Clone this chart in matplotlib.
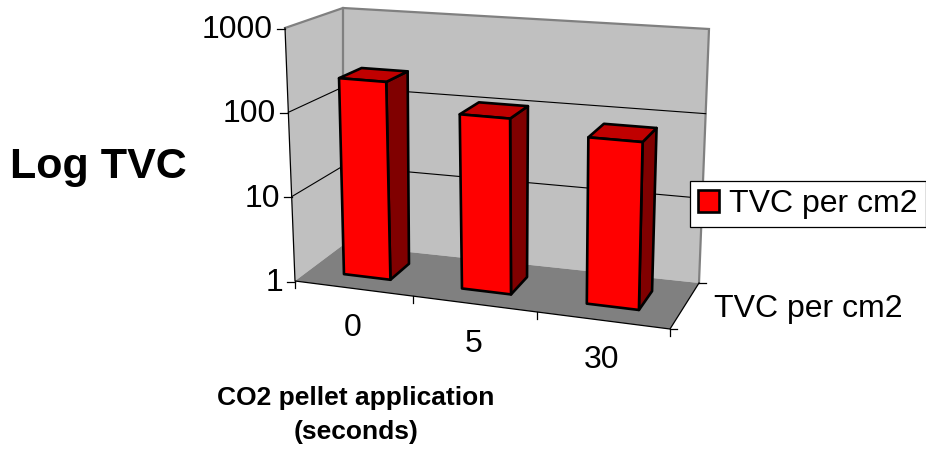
import numpy as np
import matplotlib
matplotlib.use("Agg")
import matplotlib.pyplot as plt
from matplotlib.patches import Polygon, Patch

categories = ["0", "5", "30"]
values = [225, 110, 80]
y_ticks = [1, 10, 100, 1000]
series_name = "TVC per cm2"
x_title = "CO2 pellet application\n(seconds)"
y_title = "Log TVC"

plt.rcParams["font.family"] = ["Liberation Sans", "DejaVu Sans"]
fig = plt.figure(figsize=(9.26, 4.51), dpi=100)
ax = fig.add_axes([0, 0, 1, 1])
ax.set_xlim(0, 926)
ax.set_ylim(451, 0)
ax.axis("off")

# projected corners of the chart box: (category fraction, depth fraction)
FLOOR = [(295, 281), (670, 329), (699, 283), (343, 245)]
CEIL = [(285, 28), (678, 57), (709, 29), (343, 8)]


def homography(q):
    (x0, y0), (x1, y1), (x2, y2), (x3, y3) = q
    dx1, dx2, sx = x1 - x2, x3 - x2, x0 - x1 + x2 - x3
    dy1, dy2, sy = y1 - y2, y3 - y2, y0 - y1 + y2 - y3
    d = dx1 * dy2 - dx2 * dy1
    g = (sx * dy2 - dx2 * sy) / d
    h = (dx1 * sy - sx * dy1) / d
    return np.array([[x1 - x0 + g * x1, x3 - x0 + h * x3, x0],
                     [y1 - y0 + g * y1, y3 - y0 + h * y3, y0],
                     [g, h, 1.0]])


HF, HC = homography(FLOOR), homography(CEIL)


def apply(H, q, u, w):
    p = H @ np.array([u, w, 1.0])
    persp = p[:2] / p[2]
    a, b, c, d = [np.array(k, float) for k in q]
    bilin = (1 - w) * ((1 - u) * a + u * b) + w * ((1 - u) * d + u * c)
    return 0.5 * persp + 0.5 * bilin


def proj(u, w, val):
    t = np.log10(val) / np.log10(y_ticks[-1])
    return tuple((1 - t) * apply(HF, FLOOR, u, w) + t * apply(HC, CEIL, u, w))


vmin, vmax = y_ticks[0], y_ticks[-1]
WALL, FLOORC = "#C0C0C0", "#808080"

# walls
ax.add_patch(Polygon([proj(0, 0, vmin), proj(0, 1, vmin), proj(0, 1, vmax), proj(0, 0, vmax)],
                     fc=WALL, ec="none", zorder=1))
ax.add_patch(Polygon([proj(0, 1, vmin), proj(1, 1, vmin), proj(1, 1, vmax), proj(0, 1, vmax)],
                     fc=WALL, ec="none", zorder=1))
# wall outline
ax.plot(*zip(proj(0, 0, vmax), proj(0, 1, vmax), proj(1, 1, vmax), proj(1, 1, vmin)),
        color="#808080", lw=1.6, zorder=2, solid_joinstyle="miter")
ax.plot(*zip(proj(0, 1, vmax), proj(0, 1, vmin)), color="#808080", lw=1.6, zorder=2)

# gridlines
for v in y_ticks[1:-1]:
    ax.plot(*zip(proj(0, 0, v), proj(0, 1, v), proj(1, 1, v)), color="black", lw=0.8, zorder=2)

# floor
ax.add_patch(Polygon([proj(0, 0, vmin), proj(1, 0, vmin), proj(1, 1, vmin), proj(0, 1, vmin)],
                     fc=FLOORC, ec="none", zorder=3))
# axis lines
ax.plot(*zip(proj(0, 0, vmax), proj(0, 0, vmin), proj(1, 0, vmin), proj(1, 1, vmin)),
        color="black", lw=0.9, zorder=4)

# value ticks and labels
for v in y_ticks:
    x, y = proj(0, 0, v)
    ax.plot([x - 8, x], [y + 0.5, y + 0.5], color="black", lw=0.9, zorder=4)
    ax.text(x - 12, y + 2, str(v), ha="right", va="center", fontsize=23, zorder=6)

# category ticks and labels
n = len(categories)
for i in range(n + 1):
    x, y = proj(i / n, 0, vmin)
    ax.plot([x, x], [y, y + 7], color="black", lw=0.9, zorder=4)
for i, c in enumerate(categories):
    x, y = proj((i + 0.5) / n, 0, vmin)
    ax.text(x - 1, y + 40, c, ha="center", va="center", fontsize=23, zorder=6)

# depth ticks and series label
for w in (0, 1):
    x, y = proj(1, w, vmin)
    ax.plot([x, x + 7], [y, y], color="black", lw=0.9, zorder=4)
x, y = proj(1, 0.5, vmin)
ax.text(x + 29, y + 3, series_name, ha="left", va="center", fontsize=23, zorder=6)

# bars
half, w0, w1 = 0.2, 0.3, 0.72
for i, v in enumerate(values):
    u0, u1 = (i + 0.5 - half) / n, (i + 0.5 + half) / n
    kw = dict(ec="black", lw=1.9, joinstyle="round", zorder=5)
    ax.add_patch(Polygon([proj(u1, w0, vmin), proj(u1, w1, vmin), proj(u1, w1, v), proj(u1, w0, v)],
                         fc="#800000", **kw))
    ax.add_patch(Polygon([proj(u0, w0, v), proj(u1, w0, v), proj(u1, w1, v), proj(u0, w1, v)],
                         fc="#C00000", **kw))
    ax.add_patch(Polygon([proj(u0, w0, vmin), proj(u1, w0, vmin), proj(u1, w0, v), proj(u0, w0, v)],
                         fc="#FF0000", **kw))

# titles
ax.text(98, 167, y_title, ha="center", va="center", fontsize=31, fontweight="bold")
ax.text(356, 415, x_title, ha="center", va="center", fontsize=19, fontweight="bold", linespacing=1.5)

# legend
leg = ax.legend(handles=[Patch(fc="#FF0000", ec="black", lw=1.9, label=series_name)],
                loc="upper left", bbox_to_anchor=(690, 181), bbox_transform=ax.transData,
                fontsize=23, frameon=True, fancybox=False, framealpha=1, edgecolor="black",
                borderaxespad=0, borderpad=0.25, handlelength=0.66, handleheight=0.66, handletextpad=0.31)
leg.get_frame().set_linewidth(0.9)
leg.set_zorder(7)

fig.savefig("out.png", dpi=100)
